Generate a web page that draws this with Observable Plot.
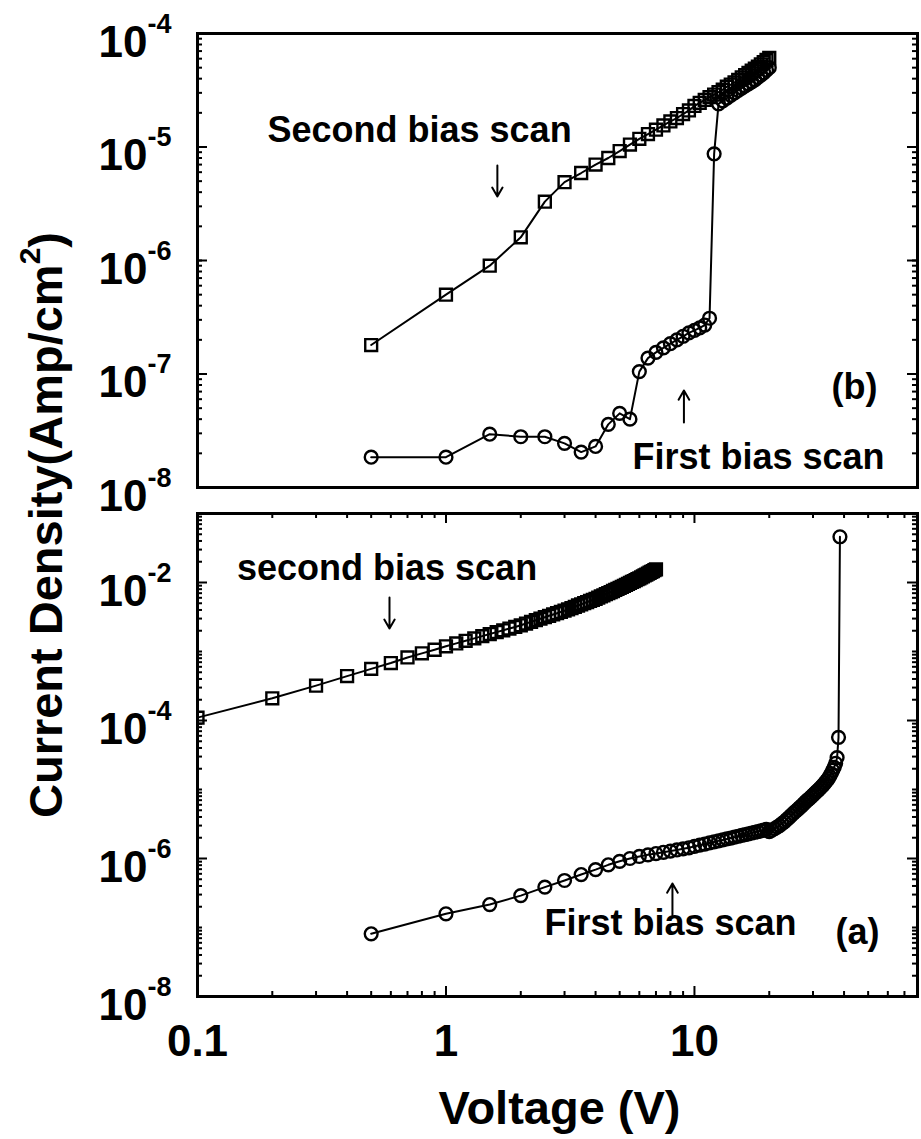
<!DOCTYPE html>
<html>
<head>
<meta charset="utf-8">
<script src="https://cdn.jsdelivr.net/npm/d3@7"></script>
<script src="https://cdn.jsdelivr.net/npm/@observablehq/plot@0.6"></script>
<style>
  body { margin: 0; background: #fff; }
  #fig { position: relative; width: 921px; height: 1139px; background: #fff; }
  #fig svg { display: block; position: absolute; left: 0; }
</style>
</head>
<body>
<div id="fig"></div>
<script>
// ---------------- DATA ----------------
// Panel (b): top
const topSecondV = [0.5,1,1.5,2,2.5,3,3.5,4,4.5,5,5.5,6,6.5,7,7.5,8,8.5,9,9.5,10,10.5,11,11.5,12,12.5,13,13.5,14,14.5,15,15.5,16,16.5,17,17.5,18,18.5,19,19.5,20];
const topSecondJ = [1.8e-7,5.0e-7,9.0e-7,1.6e-6,3.3e-6,4.9e-6,5.9e-6,7.0e-6,8.0e-6,9.2e-6,1.05e-5,1.18e-5,1.3e-5,1.42e-5,1.55e-5,1.68e-5,1.8e-5,1.95e-5,2.1e-5,2.3e-5,2.45e-5,2.6e-5,2.75e-5,2.9e-5,3.05e-5,3.2e-5,3.4e-5,3.55e-5,3.7e-5,3.9e-5,4.1e-5,4.3e-5,4.5e-5,4.7e-5,4.9e-5,5.1e-5,5.35e-5,5.6e-5,5.85e-5,6.1e-5];
const topFirstV = [0.5,1,1.5,2,2.5,3,3.5,4,4.5,5,5.5,6,6.5,7,7.5,8,8.5,9,9.5,10,10.5,11,11.5,12,12.5,13,13.5,14,14.5,15,15.5,16,16.5,17,17.5,18,18.5,19,19.5,20];
const topFirstJ = [1.85e-8,1.85e-8,2.95e-8,2.8e-8,2.8e-8,2.45e-8,2.05e-8,2.3e-8,3.6e-8,4.5e-8,4.0e-8,1.05e-7,1.38e-7,1.55e-7,1.7e-7,1.85e-7,2.0e-7,2.15e-7,2.3e-7,2.42e-7,2.55e-7,2.7e-7,3.1e-7,8.7e-6,2.4e-5,2.55e-5,2.7e-5,2.85e-5,3.0e-5,3.15e-5,3.3e-5,3.45e-5,3.6e-5,3.75e-5,3.9e-5,4.1e-5,4.3e-5,4.5e-5,4.75e-5,5.0e-5];

// Panel (a): bottom
const botSecondV = [0.1,0.2,0.3,0.4,0.5,0.6,0.7,0.8,0.9,1.0,1.1,1.2,1.3,1.4,1.5,1.6,1.7,1.8,1.9,2.0,2.1,2.2,2.3,2.4,2.5,2.6,2.7,2.8,2.9,3.0,3.1,3.2,3.3,3.4,3.5,3.6,3.7,3.8,3.9,4.0,4.1,4.2,4.3,4.4,4.5,4.6,4.7,4.8,4.9,5.0,5.1,5.2,5.3,5.4,5.5,5.6,5.7,5.8,5.9,6.0,6.1,6.2,6.3,6.4,6.5,6.6,6.7,6.8,6.9,7.0];
const botSecondJ = [1.1e-4,2.1e-4,3.2e-4,4.4e-4,5.6e-4,6.8e-4,8.2e-4,9.4e-4,1.06e-3,1.19e-3,1.31e-3,1.43e-3,1.55e-3,1.67e-3,1.79e-3,1.91e-3,2.03e-3,2.15e-3,2.27e-3,2.40e-3,2.54e-3,2.69e-3,2.84e-3,2.99e-3,3.14e-3,3.29e-3,3.44e-3,3.59e-3,3.75e-3,3.90e-3,4.08e-3,4.26e-3,4.45e-3,4.64e-3,4.82e-3,5.02e-3,5.21e-3,5.40e-3,5.60e-3,5.80e-3,6.04e-3,6.28e-3,6.52e-3,6.77e-3,7.02e-3,7.27e-3,7.53e-3,7.79e-3,8.06e-3,8.33e-3,8.63e-3,8.93e-3,9.23e-3,9.55e-3,9.86e-3,1.018e-2,1.050e-2,1.083e-2,1.117e-2,1.15e-2,1.187e-2,1.226e-2,1.264e-2,1.303e-2,1.343e-2,1.384e-2,1.424e-2,1.466e-2,1.508e-2,1.55e-2];
const botFirstV = [0.5,1,1.5,2,2.5,3,3.5,4,4.5,5,5.5,6,6.5,7,7.5,8,8.5,9,9.5,10,10.5,11,11.5,12,12.5,13,13.5,14,14.5,15,15.5,16,16.5,17,17.5,18,18.5,19,19.5,20,20.5,21,21.5,22,22.5,23,23.5,24,24.5,25,25.5,26,26.5,27,27.5,28,28.5,29,29.5,30,30.5,31,31.5,32,32.5,33,33.5,34,34.5,35,35.5,36,36.5,37,37.5,38,38.5];
const botFirstJ = [8.1e-8,1.58e-7,2.15e-7,2.9e-7,3.85e-7,4.8e-7,5.85e-7,6.9e-7,8.1e-7,9.1e-7,1.0e-6,1.07e-6,1.13e-6,1.18e-6,1.23e-6,1.28e-6,1.33e-6,1.38e-6,1.43e-6,1.5e-6,1.56e-6,1.62e-6,1.68e-6,1.74e-6,1.8e-6,1.86e-6,1.92e-6,1.98e-6,2.04e-6,2.1e-6,2.16e-6,2.22e-6,2.28e-6,2.34e-6,2.4e-6,2.46e-6,2.52e-6,2.58e-6,2.64e-6,2.45e-6,2.57e-6,2.7e-6,2.85e-6,3.0e-6,3.2e-6,3.4e-6,3.65e-6,3.9e-6,4.2e-6,4.5e-6,4.8e-6,5.1e-6,5.45e-6,5.8e-6,6.2e-6,6.6e-6,7.0e-6,7.4e-6,7.85e-6,8.3e-6,8.8e-6,9.3e-6,9.8e-6,1.04e-5,1.1e-5,1.17e-5,1.25e-5,1.33e-5,1.43e-5,1.55e-5,1.7e-5,1.9e-5,2.1e-5,2.4e-5,2.9e-5,5.7e-5,4.6e-2];

// Axes / ticks
const xDomain = [0.1, 79];
const xMajor = [0.1, 1, 10];
const xMajorLabels = ["0.1", "1", "10"];
const xMinor = [0.2,0.3,0.4,0.5,0.6,0.7,0.8,0.9,2,3,4,5,6,7,8,9,20,30,40,50,60,70];
const topYDomain = [1e-8, 1e-4];
const topYMajor = [1e-8, 1e-7, 1e-6, 1e-5, 1e-4];
const topYExp = ["-8", "-7", "-6", "-5", "-4"];
const botYDomain = [1e-8, 1e-1];
const botYMajor = [1e-8, 1e-6, 1e-4, 1e-2];
const botYExp = ["-8", "-6", "-4", "-2"];

const labels = {
  yTitle: "Current Density(Amp/cm",
  yTitleSup: "2",
  xTitle: "Voltage (V)",
  topSecond: "Second bias scan",
  topFirst: "First bias scan",
  topPanel: "(b)",
  botSecond: "second bias scan",
  botFirst: "First bias scan",
  botPanel: "(a)"
};

// ---------------- HELPERS ----------------
const FONT = '"Liberation Sans", Arial, Helvetica, sans-serif';
const rows = (V, J) => V.map((v, i) => ({V: v, J: J[i]}));
function minorTicks(lo, hi, skip = []) {
  const out = [];
  const e0 = Math.round(Math.log10(lo)), e1 = Math.round(Math.log10(hi));
  for (let e = e0; e < e1; e++) {
    for (let k = 1; k <= 9; k++) {
      if (k === 1 && (e === e0 || skip.some(s => Math.abs(Math.log10(s) - e) < 1e-9))) continue;
      out.push(k * Math.pow(10, e));
    }
  }
  return out;
}

const W = 921, ML = 197, MR = 4;
const PW = W - ML - MR;
const MAJ = 10, MIN = 5;

function yAxisMarks(major, exps, minor) {
  return [
    Plot.tickY(major, {y: d => d, insetRight: PW - MAJ, strokeWidth: 2}),
    Plot.tickY(major, {y: d => d, insetLeft: PW - MAJ, strokeWidth: 2}),
    Plot.tickY(minor, {y: d => d, insetRight: PW - MIN, strokeWidth: 2}),
    Plot.tickY(minor, {y: d => d, insetLeft: PW - MIN, strokeWidth: 2}),
    Plot.text(major, {y: d => d, frameAnchor: "left", text: () => "10", dx: -50, dy: 23,
      textAnchor: "end", lineAnchor: "bottom", fontSize: 44, fontWeight: "bold", fontFamily: FONT, fill: "black"}),
    Plot.text(major, {y: d => d, frameAnchor: "left", text: (d, i) => exps[i], dx: -50, dy: -1,
      textAnchor: "start", lineAnchor: "bottom", fontSize: 27, fontWeight: "bold", fontFamily: FONT, fill: "black"})
  ];
}

function seriesMarks(data, symbol, r) {
  return [
    Plot.line(data, {x: "V", y: "J", stroke: "black", strokeWidth: 2, clip: true}),
    Plot.dot(data, {x: "V", y: "J", symbol, r, stroke: "black", strokeWidth: 2.4, fill: "none", clip: true})
  ];
}

const annText = (o) => ({fontSize: 36, fontWeight: "bold", fontFamily: FONT, fill: "black", lineAnchor: "bottom", ...o});

// ---------------- TOP PANEL (b) ----------------
const topH = 500;
const topPlot = Plot.plot({
  width: W, height: topH,
  marginLeft: ML, marginRight: MR, marginTop: 33, marginBottom: 13,
  x: {type: "log", domain: xDomain, axis: null},
  y: {type: "log", domain: topYDomain, axis: null},
  style: {background: "transparent", overflow: "visible"},
  marks: [
    ...yAxisMarks(topYMajor, topYExp, minorTicks(1e-8, 1e-4)),
    ...seriesMarks(rows(topSecondV, topSecondJ), "square", 6.7),
    ...seriesMarks(rows(topFirstV, topFirstJ), "circle", 6.4),
    Plot.text([labels.topSecond], annText({x: () => 0.1913, y: () => 1.096e-5, text: d => d, textAnchor: "start"})),
    Plot.arrow([0], {x1: () => 1.61, y1: () => 6.87e-6, x2: () => 1.61, y2: () => 3.66e-6, stroke: "black", strokeWidth: 2, headLength: 11}),
    Plot.text([labels.topPanel], annText({x: () => 54.5, y: () => 6.08e-8, text: d => d, textAnchor: "end"})),
    Plot.arrow([0], {x1: () => 9.07, y1: () => 3.74e-8, x2: () => 9.07, y2: () => 7.16e-8, stroke: "black", strokeWidth: 2, headLength: 11}),
    Plot.text([labels.topFirst], annText({x: () => 5.63, y: () => 1.47e-8, text: d => d, textAnchor: "start"})),
    Plot.frame({stroke: "black", strokeWidth: 3})
  ]
});

// ---------------- BOTTOM PANEL (a) ----------------
const botH = 639;
const botPlotH = botH - 13 - 143;
const botPlot = Plot.plot({
  width: W, height: botH,
  marginLeft: ML, marginRight: MR, marginTop: 13, marginBottom: 143,
  x: {type: "log", domain: xDomain, axis: null},
  y: {type: "log", domain: botYDomain, axis: null},
  style: {background: "transparent", overflow: "visible"},
  marks: [
    ...yAxisMarks(botYMajor, botYExp, minorTicks(1e-8, 1e-1, botYMajor)),
    Plot.tickX(xMajor, {x: d => d, insetTop: botPlotH - MAJ, strokeWidth: 2}),
    Plot.tickX(xMajor, {x: d => d, insetBottom: botPlotH - MAJ, strokeWidth: 2}),
    Plot.tickX(xMinor, {x: d => d, insetTop: botPlotH - MIN, strokeWidth: 2}),
    Plot.tickX(xMinor, {x: d => d, insetBottom: botPlotH - MIN, strokeWidth: 2}),
    Plot.text(xMajor, {x: d => d, frameAnchor: "bottom", text: (d, i) => xMajorLabels[i], dy: 59,
      lineAnchor: "bottom", fontSize: 44, fontWeight: "bold", fontFamily: FONT, fill: "black"}),
    Plot.text([labels.xTitle], {frameAnchor: "bottom", text: d => d, dy: 127, dx: 2,
      lineAnchor: "bottom", fontSize: 47, fontWeight: "bold", fontFamily: FONT, fill: "black"}),
    ...seriesMarks(rows(botSecondV, botSecondJ), "square", 6.7),
    ...seriesMarks(rows(botFirstV, botFirstJ), "circle", 6.4),
    Plot.text([labels.botSecond], annText({x: () => 0.1442, y: () => 1.07e-2, text: d => d, textAnchor: "start"})),
    Plot.arrow([0], {x1: () => 0.5925, y1: () => 6.07e-3, x2: () => 0.5925, y2: () => 2.15e-3, stroke: "black", strokeWidth: 2, headLength: 11}),
    Plot.text([labels.botFirst], annText({x: () => 2.49, y: () => 7.66e-8, text: d => d, textAnchor: "start"})),
    Plot.arrow([0], {x1: () => 8.155, y1: () => 1.49e-7, x2: () => 8.155, y2: () => 4.35e-7, stroke: "black", strokeWidth: 2, headLength: 11}),
    Plot.text([labels.botPanel], annText({x: () => 55.5, y: () => 5.86e-8, text: d => d, textAnchor: "end"})),
    Plot.frame({stroke: "black", strokeWidth: 3})
  ]
});

const fig = document.getElementById("fig");
topPlot.style.top = "0px";
botPlot.style.top = topH + "px";
fig.appendChild(topPlot);
fig.appendChild(botPlot);

// y-axis title spanning both panels
const overlay = d3.select(fig).append("svg")
  .attr("width", W).attr("height", 1139)
  .style("top", "0px").style("pointer-events", "none");
const t = overlay.append("text")
  .attr("transform", "translate(62,525) rotate(-90)")
  .attr("text-anchor", "middle")
  .attr("font-family", FONT).attr("font-weight", "bold").attr("font-size", 47)
  .attr("fill", "black");
t.append("tspan").text(labels.yTitle);
t.append("tspan").attr("font-size", 30).attr("dy", -22).text(labels.yTitleSup);
t.append("tspan").attr("dy", 22).text(")");
</script>
</body>
</html>
